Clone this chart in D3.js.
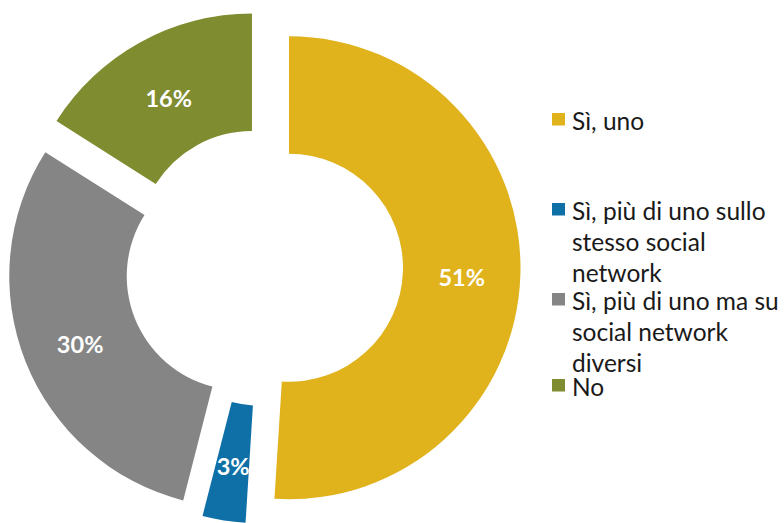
<!DOCTYPE html>
<html>
<head>
<meta charset="utf-8">
<script src="https://cdn.jsdelivr.net/npm/d3@7"></script>
<style>
  html, body { margin: 0; padding: 0; background: #fff; }
  svg { display: block; }
</style>
</head>
<body>
<svg id="chart" width="784" height="523"></svg>
<script>
// Answer categories and their shares (%)
const categories = [
  "Sì, uno",
  "Sì, più di uno sullo stesso social network",
  "Sì, più di uno ma su social network diversi",
  "No"
];
const values = [51, 3, 30, 16];
const colors = ["#E0B21C", "#0F70A8", "#858585", "#808C30"];
// Legend text as wrapped in the legend box
const legendLines = [
  ["Sì, uno"],
  ["Sì, più di uno sullo", "stesso social", "network"],
  ["Sì, più di uno ma su", "social network", "diversi"],
  ["No"]
];

const svg = d3.select("#chart");

// Donut geometry
const cx = 264, cy = 267;
const outerR = 231.5, innerR = 114;
const explode = 25;

const data = categories.map((c, i) => ({ name: c, value: values[i], color: colors[i] }));

const pie = d3.pie().sort(null).value(d => d.value).startAngle(0).endAngle(2 * Math.PI);
const arc = d3.arc().innerRadius(innerR).outerRadius(outerR);
const arcs = pie(data);

const g = svg.append("g").attr("transform", `translate(${cx},${cy})`);

// Each slice is pulled out from the centre along its mid-angle
const slice = g.selectAll("g.slice").data(arcs).join("g")
  .attr("class", "slice")
  .attr("transform", d => {
    const a = (d.startAngle + d.endAngle) / 2;
    return `translate(${explode * Math.sin(a)},${-explode * Math.cos(a)})`;
  });

slice.append("path")
  .attr("d", arc)
  .attr("fill", d => d.data.color);

slice.append("text")
  .attr("transform", d => `translate(${arc.centroid(d)})`)
  .attr("text-anchor", "middle")
  .attr("dy", "0.55em")
  .attr("fill", "#fff")
  .attr("font-family", "Lato, 'Open Sans', sans-serif")
  .attr("font-weight", "bold")
  .attr("font-size", 23.5)
  .text(d => d.data.value + "%");

// Legend
const legendX = 552;
const entryBaselines = [130, 220, 310, 396];
const lineStep = 31;

const leg = svg.append("g").attr("class", "legend");
const items = leg.selectAll("g.item").data(data).join("g")
  .attr("class", "item")
  .attr("transform", (d, i) => `translate(${legendX},${entryBaselines[i]})`);

items.append("rect")
  .attr("x", 0).attr("y", -17)
  .attr("width", 13).attr("height", 12.5)
  .attr("fill", d => d.color);

items.each(function (d, i) {
  const t = d3.select(this).append("text")
    .attr("fill", "#1a1a1a")
    .attr("font-family", "Lato, 'Open Sans', sans-serif")
    .attr("font-size", 24.5);
  legendLines[i].forEach((line, k) => {
    t.append("tspan").attr("x", 20).attr("y", k * lineStep).text(line);
  });
});
</script>
</body>
</html>
